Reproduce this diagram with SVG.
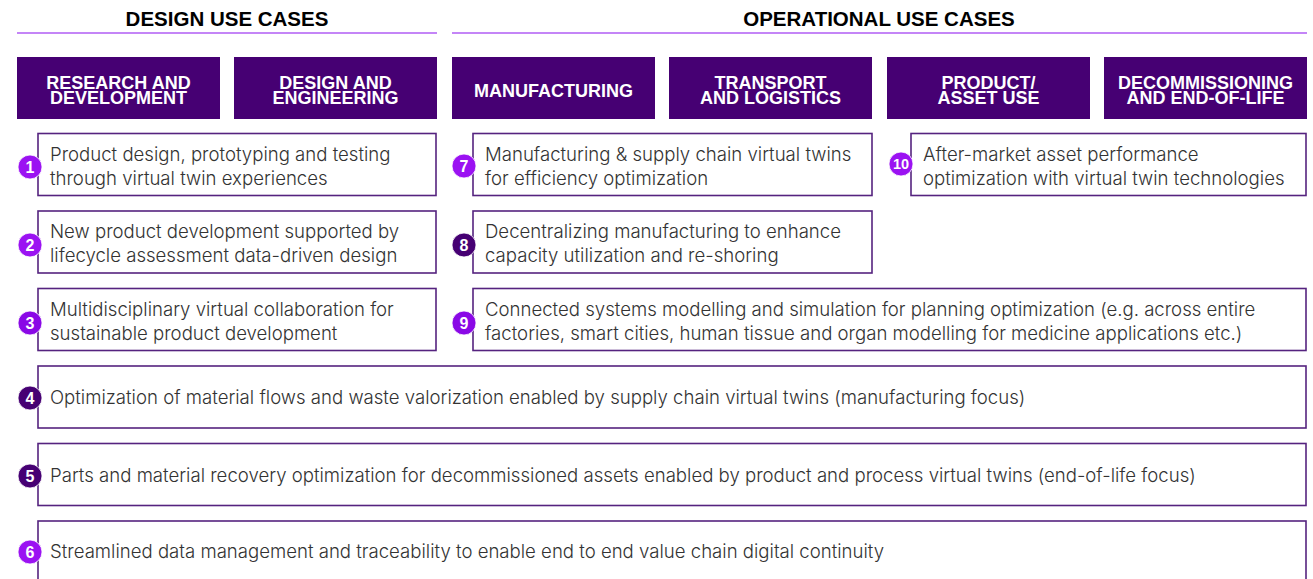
<svg xmlns="http://www.w3.org/2000/svg" width="1313" height="579" viewBox="0 0 1313 579">
<style>
.hdr{font-family:"Liberation Sans",Arial,sans-serif;font-weight:bold;font-size:20.5px;fill:#000;text-anchor:middle}
.rule{stroke:#b05cf5;stroke-width:1.6;fill:none}
.cat{fill:#460073}
.catt{font-family:"Liberation Sans",Arial,sans-serif;font-weight:bold;font-size:18px;fill:#fff;text-anchor:middle}
.box{fill:#fff;stroke:#55237f;stroke-width:1.6}
.txt{font-family:Inter,"DejaVu Sans",sans-serif;font-weight:300;font-size:18.6px;fill:#333}
.cb{fill:#9b12f2;stroke:#fff;stroke-width:0.8}
.cd{fill:#460073;stroke:#fff;stroke-width:0.8}
.num{font-family:"Liberation Sans",Arial,sans-serif;font-weight:bold;font-size:16px;fill:#fff;text-anchor:middle}
</style>
<g id="headers">
<text class="hdr" x="227" y="26">DESIGN USE CASES</text>
<text class="hdr" x="879" y="26">OPERATIONAL USE CASES</text>
<line class="rule" x1="17" y1="33" x2="437" y2="33"/>
<line class="rule" x1="452" y1="33" x2="1307" y2="33"/>
</g>
<g id="cat-rd"><rect class="cat" x="17" y="57" width="203" height="62"/><text class="catt" x="118.5" y="89">RESEARCH AND<tspan x="118.5" dy="15">DEVELOPMENT</tspan></text></g>
<g id="cat-de"><rect class="cat" x="234" y="57" width="203" height="62"/><text class="catt" x="335.5" y="89">DESIGN AND<tspan x="335.5" dy="15">ENGINEERING</tspan></text></g>
<g id="cat-mf"><rect class="cat" x="452" y="57" width="203" height="62"/><text class="catt" x="553.5" y="97">MANUFACTURING</text></g>
<g id="cat-tl"><rect class="cat" x="669" y="57" width="203" height="62"/><text class="catt" x="770.5" y="89">TRANSPORT<tspan x="770.5" dy="15">AND LOGISTICS</tspan></text></g>
<g id="cat-pa"><rect class="cat" x="887" y="57" width="203" height="62"/><text class="catt" x="988.5" y="89">PRODUCT/<tspan x="988.5" dy="15">ASSET USE</tspan></text></g>
<g id="cat-eol"><rect class="cat" x="1104" y="57" width="203" height="62"/><text class="catt" x="1205.5" y="89">DECOMMISSIONING<tspan x="1205.5" dy="15">AND END-OF-LIFE</tspan></text></g>

<g id="uc1"><rect class="box" x="38" y="133.5" width="398" height="62"/><text class="txt" x="50" y="160.5">Product design, prototyping and testing</text><text class="txt" x="50" y="184.5">through virtual twin experiences</text><circle class="cb" cx="30" cy="167" r="12"/><text class="num" x="30" y="172.8">1</text></g>
<g id="uc2"><rect class="box" x="38" y="211" width="398" height="62"/><text class="txt" x="50" y="238">New product development supported by</text><text class="txt" x="50" y="262">lifecycle assessment data-driven design</text><circle class="cb" cx="30" cy="245" r="12"/><text class="num" x="30" y="250.8">2</text></g>
<g id="uc3"><rect class="box" x="38" y="288.5" width="398" height="62"/><text class="txt" x="50" y="315.5">Multidisciplinary virtual collaboration for</text><text class="txt" x="50" y="339.5">sustainable product development</text><circle class="cb" cx="30" cy="323" r="12" style="fill:#8a08e6"/><text class="num" x="30" y="328.8">3</text></g>
<g id="uc7"><rect class="box" x="473" y="133.5" width="399" height="62"/><text class="txt" x="485" y="160.5">Manufacturing &amp; supply chain virtual twins</text><text class="txt" x="485" y="184.5">for efficiency optimization</text><circle class="cb" cx="464" cy="166" r="12"/><text class="num" x="464" y="171.8">7</text></g>
<g id="uc8"><rect class="box" x="473" y="211" width="399" height="62"/><text class="txt" x="485" y="238">Decentralizing manufacturing to enhance</text><text class="txt" x="485" y="262">capacity utilization and re-shoring</text><circle class="cd" cx="464" cy="245" r="12"/><text class="num" x="464" y="250.8">8</text></g>
<g id="uc9"><rect class="box" x="473" y="288.5" width="833" height="62"/><text class="txt" x="485" y="315.5">Connected systems modelling and simulation for planning optimization (e.g. across entire</text><text class="txt" x="485" y="339.5">factories, smart cities, human tissue and organ modelling for medicine applications etc.)</text><circle class="cb" cx="464" cy="323" r="12" style="fill:#8a08e6"/><text class="num" x="464" y="328.8">9</text></g>
<g id="uc10"><rect class="box" x="911" y="133.5" width="395" height="62"/><text class="txt" x="923" y="160.5">After-market asset performance</text><text class="txt" x="923" y="184.5">optimization with virtual twin technologies</text><circle class="cb" cx="901" cy="164" r="12"/><text class="num" x="901" y="169.3" style="font-size:14.5px">10</text></g>
<g id="uc4"><rect class="box" x="38" y="366" width="1268" height="62"/><text class="txt" x="50" y="404">Optimization of material flows and waste valorization enabled by supply chain virtual twins (manufacturing focus)</text><circle class="cd" cx="30" cy="398" r="12"/><text class="num" x="30" y="403.8">4</text></g>
<g id="uc5"><rect class="box" x="38" y="443.5" width="1268" height="62"/><text class="txt" x="50" y="482">Parts and material recovery optimization for decommissioned assets enabled by product and process virtual twins (end-of-life focus)</text><circle class="cd" cx="30" cy="476" r="12"/><text class="num" x="30" y="481.8">5</text></g>
<g id="uc6"><rect class="box" x="38" y="521" width="1268" height="62"/><text class="txt" x="50" y="558">Streamlined data management and traceability to enable end to end value chain digital continuity</text><circle class="cb" cx="30" cy="552" r="12"/><text class="num" x="30" y="557.8">6</text></g>
<g id="connectors"/>
</svg>
